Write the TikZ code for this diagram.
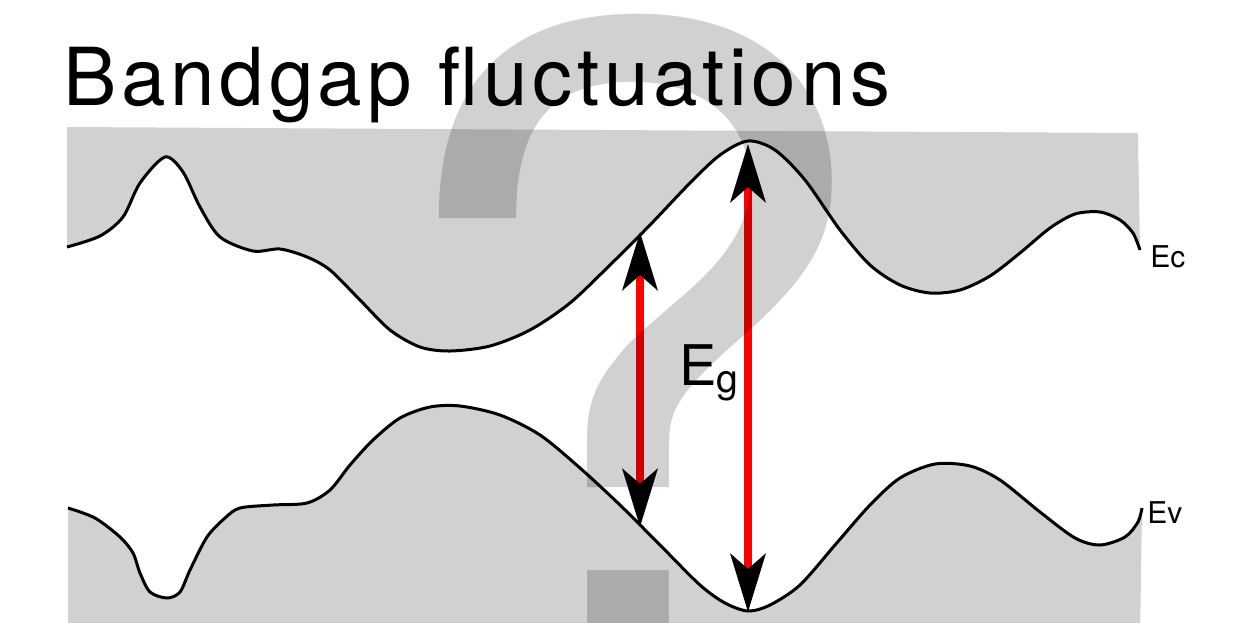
\documentclass[tikz,border=0pt]{standalone}
\usepackage{fontspec}
\setmainfont{TeX Gyre Heros}
\newfontfamily\titlefont[LetterSpace=5.9]{TeX Gyre Heros}
\usetikzlibrary{arrows.meta}
% conduction and valence band edges (pixel grid, y down)
\newcommand{\ecline}{plot[smooth] coordinates {(67,247) (100,236) (123,217) (140,183) (165,157) (183,172) (200,207) (220,237) (253,251) (280,249) (307,257) (330,270) (360,300) (390,330) (420,347) (450,351) (490,346) (530,330) (570,303) (610,265) (650,225) (690,183) (720,155) (748,141) (775,150) (805,180) (840,230) (870,265) (900,285) (930,293) (960,290) (990,276) (1020,253) (1050,228) (1075,214) (1100,212) (1120,220) (1133,233) (1140,250)}}
\newcommand{\evline}{plot[smooth] coordinates {(68,508) (95,518) (120,537) (133,553) (140,573) (150,592) (167,598) (180,592) (190,570) (207,537) (225,518) (240,508) (273,505) (307,503) (330,490) (350,465) (373,440) (400,418) (430,407) (460,406) (500,415) (540,435) (580,468) (620,505) (660,545) (700,585) (725,603) (748,611) (770,605) (800,585) (835,545) (870,505) (900,478) (935,464) (970,466) (1000,480) (1040,512) (1075,538) (1100,545) (1125,537) (1138,522) (1142,508)}}

\begin{document}
\begin{tikzpicture}[x=0.5pt,y=-0.5pt,
  band/.style={fill=black!18},
  edge/.style={line width=1.5pt},
  gaparrow/.style={draw=red,line width=4pt,
    {Stealth[black,length=29pt,width=17.5pt,inset=7.5pt]}-{Stealth[black,length=29pt,width=17.5pt,inset=7.5pt]}},
  lbl/.style={inner sep=0pt,anchor=base west}]
  \useasboundingbox (0,0) rectangle (1233,622);
  \fill[band] \ecline -- (1138,133) -- (67,127) -- cycle;
  \fill[band] \evline -- (1140,640) -- (68,640) -- cycle;
  \draw[edge] \ecline;
  \draw[edge] \evline;
  % arrow end points on the band edges
  \coordinate (c1) at (640,232);
  \coordinate (v1) at (640,527);
  \coordinate (c2) at (748,144);
  \coordinate (v2) at (748,612);
  \draw[gaparrow] (v1) -- (c1);
  \draw[gaparrow] (v2) -- (c2);
  \node[lbl,font=\titlefont\fontsize{40}{40}\selectfont] (title) at (63,105) {Bandgap fluctuations};
  \node[lbl,font=\fontsize{28}{28}\selectfont] (eg) at (679,385) {E\textsubscript{g}};
  \node[lbl,font=\fontsize{15}{15}\selectfont] (ec) at (1150,267) {Ec};
  \node[lbl,font=\fontsize{15}{15}\selectfont] (ev) at (1147,523) {Ev};
  \node[inner sep=0pt,anchor=base,yscale=0.96,text opacity=0.18,font=\fontsize{455}{455}\selectfont] (qm) at (628,661) {?};
\end{tikzpicture}
\end{document}
